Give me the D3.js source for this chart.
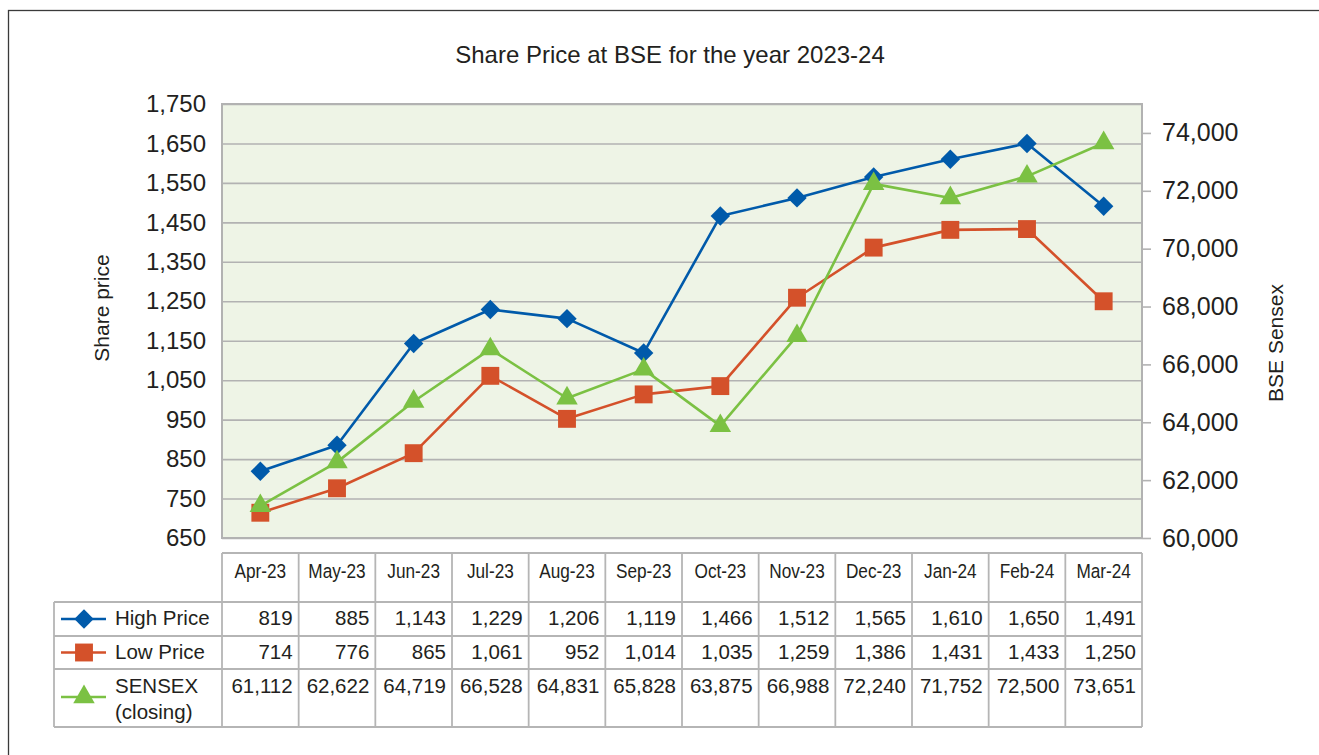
<!DOCTYPE html>
<html>
<head>
<meta charset="utf-8">
<script src="https://cdn.jsdelivr.net/npm/d3@7"></script>
<style>
    body { margin: 0; background: #fff; }
    text { font-family: "Liberation Sans", Arial, sans-serif; fill: #231f20; }
</style>
</head>
<body>
<div id="main"></div>
<script>
const months = ["Apr-23", "May-23", "Jun-23", "Jul-23", "Aug-23", "Sep-23",
    "Oct-23", "Nov-23", "Dec-23", "Jan-24", "Feb-24", "Mar-24"];
const highPrice = [819, 885, 1143, 1229, 1206, 1119, 1466, 1512, 1565, 1610, 1650, 1491];
const lowPrice = [714, 776, 865, 1061, 952, 1014, 1035, 1259, 1386, 1431, 1433, 1250];
const sensex = [61112, 62622, 64719, 66528, 64831, 65828, 63875, 66988, 72240, 71752, 72500, 73651];
const leftTicks = [650, 750, 850, 950, 1050, 1150, 1250, 1350, 1450, 1550, 1650, 1750];
const rightTicks = [60000, 62000, 64000, 66000, 68000, 70000, 72000, 74000];

const buildSvg = () => {
    const width = 1319;
    const height = 755;
    const margin = ({top: 104, right: 177, bottom: 217, left: 222});

    const blue = "#005aaa";
    const orange = "#d4512a";
    const green = "#7bc143";
    const gridColor = "#b2b2b2";
    const fmt = d3.format(",");

    const svg = d3.create("svg")
        .attr("width", width)
        .attr("height", height)
        .attr("viewBox", [0, 0, width, height]);

    // outer frame
    svg.append("rect")
        .attr("x", 8.5).attr("y", 10.5)
        .attr("width", 1330).attr("height", 760)
        .attr("fill", "none")
        .attr("stroke", "#3a3a3a")
        .attr("stroke-width", 1.3);

    const x = d3.scaleBand()
        .domain(months)
        .range([margin.left, width - margin.right]);

    const y = d3.scaleLinear()
        .domain([650, 1750])
        .range([height - margin.bottom, margin.top]);

    const y2 = d3.scaleLinear()
        .domain([60000, 75000])
        .range([height - margin.bottom, margin.top]);

    const cx = d => x(d) + x.bandwidth() / 2;

    // plot background
    svg.append("rect")
        .attr("x", margin.left).attr("y", margin.top)
        .attr("width", width - margin.left - margin.right)
        .attr("height", height - margin.top - margin.bottom)
        .attr("fill", "#eef4e6");

    // left axis: labels + gridlines
    svg.append("g")
        .attr("transform", `translate(${margin.left},0)`)
        .call(d3.axisLeft(y).tickValues(leftTicks).tickFormat(fmt).tickSize(0).tickPadding(16))
        .call(g => g.select(".domain").remove())
        .call(g => g.selectAll(".tick text")
            .attr("font-size", 24)
            .attr("font-family", null)
            .attr("fill", "#231f20"))
        .call(g => g.selectAll(".tick line").clone()
            .attr("x2", width - margin.left - margin.right)
            .attr("stroke", gridColor)
            .attr("stroke-width", 1.6));

    // right axis
    svg.append("g")
        .attr("transform", `translate(${width - margin.right},0)`)
        .call(d3.axisRight(y2).tickValues(rightTicks).tickFormat(fmt).tickSize(9).tickPadding(11))
        .call(g => g.select(".domain").remove())
        .call(g => g.selectAll(".tick line").attr("stroke", gridColor).attr("stroke-width", 1.6))
        .call(g => g.selectAll(".tick text")
            .attr("font-size", 25)
            .attr("font-family", null)
            .attr("fill", "#231f20"));

    // plot border
    svg.append("rect")
        .attr("x", margin.left).attr("y", margin.top)
        .attr("width", width - margin.left - margin.right)
        .attr("height", height - margin.top - margin.bottom)
        .attr("fill", "none")
        .attr("stroke", gridColor)
        .attr("stroke-width", 2);

    // title and axis titles
    svg.append("text")
        .attr("x", 670).attr("y", 63)
        .attr("text-anchor", "middle")
        .attr("font-size", 24)
        .text("Share Price at BSE for the year 2023-24");

    svg.append("text")
        .attr("transform", "translate(109,308) rotate(-90)")
        .attr("text-anchor", "middle")
        .attr("font-size", 21)
        .text("Share price");

    svg.append("text")
        .attr("transform", "translate(1283,343) rotate(-90)")
        .attr("text-anchor", "middle")
        .attr("font-size", 21)
        .text("BSE Sensex");

    const series = [
        {name: "High Price", values: highPrice, scale: y, color: blue, shape: d3.symbolDiamond2, size: 240},
        {name: "Low Price", values: lowPrice, scale: y, color: orange, shape: d3.symbolSquare, size: 320},
        {name: "SENSEX", values: sensex, scale: y2, color: green, shape: d3.symbolTriangle, size: 200}
    ];

    series.forEach(s => {
        const line = d3.line()
            .x((d, i) => cx(months[i]))
            .y(d => s.scale(d));
        svg.append("path")
            .datum(s.values)
            .attr("fill", "none")
            .attr("stroke", s.color)
            .attr("stroke-width", 2.6)
            .attr("stroke-linejoin", "round")
            .attr("d", line);
    });
    series.forEach(s => {
        svg.append("g")
            .selectAll("path")
            .data(s.values)
            .join("path")
            .attr("transform", (d, i) => `translate(${cx(months[i])},${s.scale(d)})`)
            .attr("fill", s.color)
            .attr("d", d3.symbol(s.shape, s.size));
    });

    // data table
    const tableLeft = 54;
    const tableRight = width - margin.right;
    const headTop = 553;
    const rowTops = [602, 636, 669, 727];
    const table = svg.append("g");
    const tStroke = "#b5b5b5";

    table.append("line")
        .attr("x1", margin.left).attr("x2", tableRight)
        .attr("y1", headTop).attr("y2", headTop);
    rowTops.forEach(r => {
        table.append("line")
            .attr("x1", tableLeft).attr("x2", tableRight)
            .attr("y1", r).attr("y2", r);
    });
    table.append("line")
        .attr("x1", tableLeft).attr("x2", tableLeft)
        .attr("y1", rowTops[0]).attr("y2", rowTops[3]);
    months.forEach(m => {
        table.append("line")
            .attr("x1", x(m)).attr("x2", x(m))
            .attr("y1", headTop).attr("y2", rowTops[3]);
    });
    table.append("line")
        .attr("x1", tableRight).attr("x2", tableRight)
        .attr("y1", headTop).attr("y2", rowTops[3]);
    table.selectAll("line")
        .attr("stroke", tStroke)
        .attr("stroke-width", 1.8);

    // header labels (condensed look)
    table.append("g")
        .selectAll("text")
        .data(months)
        .join("text")
        .attr("transform", d => `translate(${cx(d)},578) scale(0.84,1)`)
        .attr("text-anchor", "middle")
        .attr("font-size", 20.5)
        .text(d => d);

    const baselines = [625, 659, 693];
    series.forEach((s, k) => {
        const rowMid = k < 2 ? (rowTops[k] + rowTops[k + 1]) / 2 : 697;
        // legend key
        table.append("line")
            .attr("x1", 61).attr("x2", 106)
            .attr("y1", rowMid).attr("y2", rowMid)
            .attr("stroke", s.color)
            .attr("stroke-width", 2.6);
        table.append("path")
            .attr("transform", `translate(84,${rowMid})`)
            .attr("fill", s.color)
            .attr("d", d3.symbol(s.shape, s.size));

        const label = table.append("text")
            .attr("x", 115)
            .attr("y", baselines[k])
            .attr("font-size", 20.5);
        if (k < 2) {
            label.text(s.name);
        } else {
            label.append("tspan").attr("x", 115).text("SENSEX");
            label.append("tspan").attr("x", 115).attr("dy", 26).text("(closing)");
        }

        table.append("g")
            .selectAll("text")
            .data(s.values)
            .join("text")
            .attr("x", (d, i) => x(months[i]) + x.bandwidth() - 6)
            .attr("y", baselines[k])
            .attr("text-anchor", "end")
            .attr("font-size", 20.5)
            .text(d => fmt(d));
    });

    return svg.node();
};

const node = buildSvg();
d3.select("#main").append(() => node);
</script>
</body>
</html>
